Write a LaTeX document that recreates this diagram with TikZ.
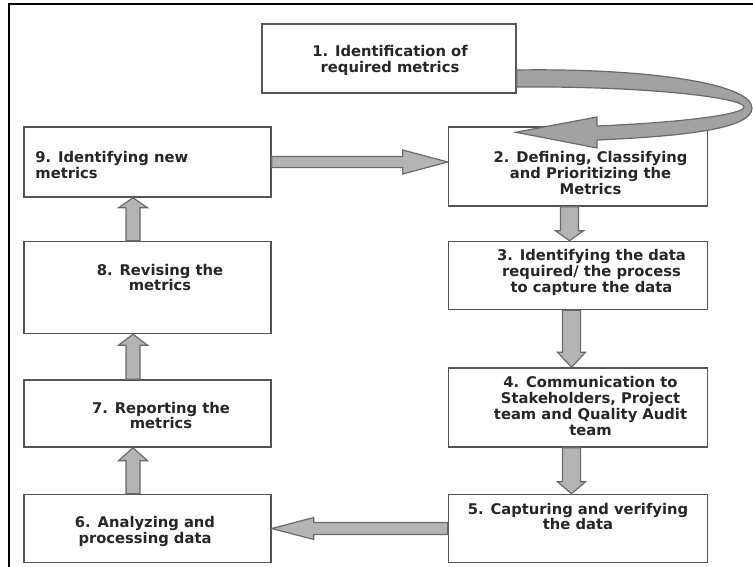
\documentclass[tikz,border=0pt]{standalone}
\usepackage{fontspec}
\setmainfont{DejaVu Sans}
\usepackage{xcolor}
\usepackage{tikz}
\usetikzlibrary{calc, positioning}
\definecolor{boxline}{HTML}{555555}
\definecolor{arrowfill}{HTML}{B4B4B4}
\definecolor{arrowline}{HTML}{6A6A6A}
\tikzstyle{stepbox} = [rectangle, draw=boxline, line width=1.5bp, fill=white, inner sep=0pt]
\tikzstyle{steptext} = [inner sep=0pt, align=center, text=black!85, font=\bfseries\fontsize{14.8}{15.8}\selectfont]
\tikzstyle{fatarrow} = [fill=arrowfill, draw=arrowline, line width=1.2bp, line join=miter]
\tikzstyle{bentarrow} = [fill=arrowfill!90!black, draw=arrowline, line width=1.2bp]
% block arrow: start, tip, shaft half width, head half width, head length
\newcommand{\fatarrow}[5]{%
  \coordinate (fa-s) at (#1);
  \coordinate (fa-t) at (#2);
  \coordinate (fa-h) at ($(fa-t)!#5!(fa-s)$);
  \filldraw[fatarrow] ($(fa-s)!#3!90:(fa-t)$) -- ($(fa-h)!#3!-90:(fa-s)$) -- ($(fa-h)!#4!-90:(fa-s)$)
    -- (fa-t) -- ($(fa-h)!#4!90:(fa-s)$) -- ($(fa-h)!#3!90:(fa-s)$) -- ($(fa-s)!#3!-90:(fa-t)$) -- cycle;
}
\begin{document}
\begin{tikzpicture}[x=1bp, y=-1bp]
\useasboundingbox (0,0) rectangle (753,567);
% frame
\draw[line width=2bp] (9,567) -- (9,4) -- (753,4);
% boxes
\node (s1) [stepbox, minimum width=254bp, minimum height=69bp,
  label={[steptext, shift={(1,2)}]center:{1. Identification of\\required metrics}}] at (389,58.5) {};
\node (s9) [stepbox, minimum width=247bp, minimum height=70bp,
  label={[steptext, align=left, anchor=west, shift={(12,3)}]west:{9. Identifying new\\metrics}}] at (147.5,162) {};
\node (s8) [stepbox, below=43bp of s9, minimum width=247bp, minimum height=92bp,
  label={[steptext, shift={(12.5,-10)}]center:{8. Revising the\\metrics}}] {};
\node (s7) [stepbox, below=45bp of s8, minimum width=247bp, minimum height=67bp,
  label={[steptext, shift={(13.5,2)}]center:{7. Reporting the\\metrics}}] {};
\node (s6) [stepbox, below=46bp of s7, minimum width=247bp, minimum height=68bp,
  label={[steptext, shift={(-2.5,3)}]center:{6. Analyzing and\\processing data}}] {};
\node (s2) [stepbox, right=176bp of s9.north east, anchor=north west, minimum width=259bp, minimum height=79bp,
  label={[steptext, shift={(12.5,6.5)}]center:{2. Defining, Classifying\\and Prioritizing the\\Metrics}}] {};
\node (s3) [stepbox, below=34bp of s2, minimum width=259bp, minimum height=68bp,
  label={[steptext, shift={(13.5,-3)}]center:{3. Identifying the data\\required/ the process\\to capture the data}}] {};
\node (s4) [stepbox, below=57bp of s3, minimum width=259bp, minimum height=79bp,
  label={[steptext, shift={(12.5,-1.5)}]center:{4. Communication to\\Stakeholders, Project\\team and Quality Audit\\team}}] {};
\node (s5) [stepbox, below=46bp of s4, minimum width=259bp, minimum height=68bp,
  label={[steptext, shift={(0,-12)}]center:{5. Capturing and verifying\\the data}}] {};
% arrows
\fatarrow{[xshift=-8.5bp]s2.south}{[xshift=-8.5bp]s3.north}{9bp}{14bp}{10bp}
\fatarrow{[xshift=-6.5bp]s3.south}{[xshift=-6.5bp]s4.north}{9bp}{14bp}{15bp}
\fatarrow{[xshift=-6.5bp]s4.south}{[xshift=-6.5bp]s5.north}{9bp}{14bp}{12bp}
\fatarrow{s5.west}{s6.east}{6bp}{11bp}{42bp}
\fatarrow{[xshift=-14.5bp]s6.north}{[xshift=-14.5bp]s7.south}{7bp}{14.5bp}{13bp}
\fatarrow{[xshift=-14.5bp]s7.north}{[xshift=-14.5bp]s8.south}{7bp}{14.5bp}{11bp}
\fatarrow{[xshift=-14.5bp]s8.north}{[xshift=-14.5bp]s9.south}{7bp}{14.5bp}{10bp}
\fatarrow{s9.east}{s9.east -| s2.west}{5.5bp}{12bp}{45bp}
% bent arrow from 1 to 2
\coordinate (c-tip) at ($(s2.north west)+(68,6)$);
\filldraw[bentarrow] ($(s1.east)+(0,11.5)$) .. controls (650,68) and (752,84) .. (752,108)
  .. controls (752,128) and (690,136) .. (597,140) -- (597,148) -- (c-tip) -- (597,117) -- (597,126)
  .. controls (690,122) and (744,114) .. (744,107) .. controls (744,98) and (650,86) .. ($(s1.east)+(0,28.5)$) -- cycle;
\end{tikzpicture}
\end{document}
